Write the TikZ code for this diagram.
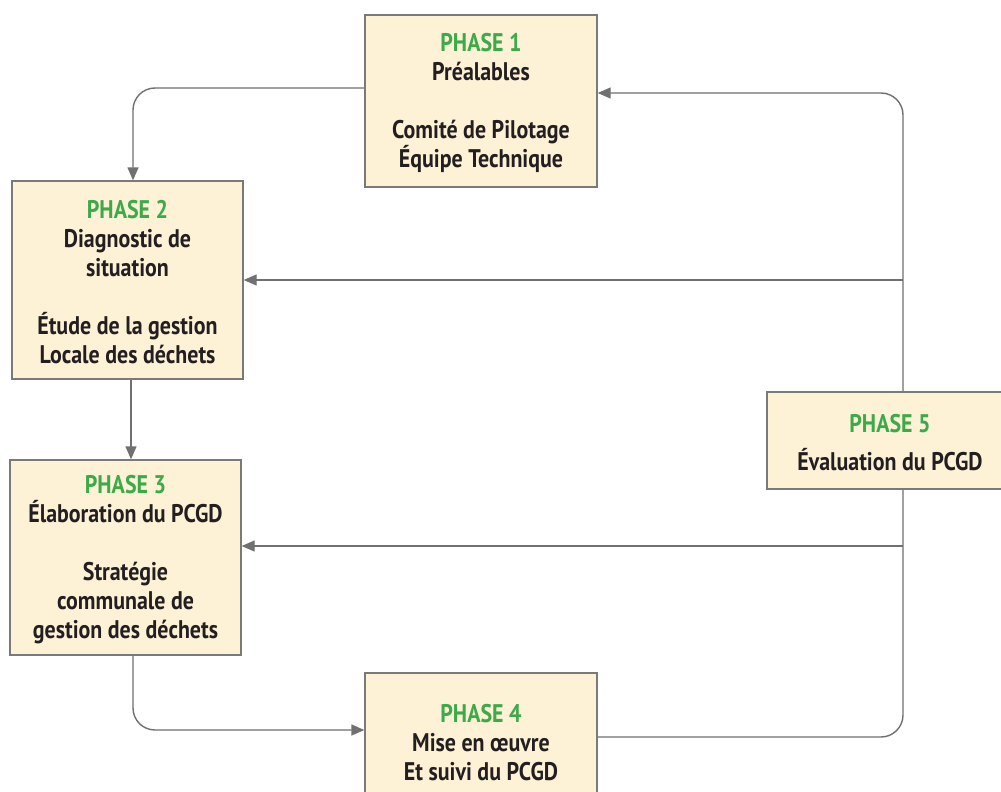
\documentclass[tikz,border=0pt]{standalone}
\usepackage{fontspec}
\setmainfont{PT Sans}[FakeStretch=0.86]
\usetikzlibrary{arrows.meta,backgrounds}
\definecolor{boxfill}{HTML}{FDF1D6}
\definecolor{boxline}{HTML}{7A7A7A}
\definecolor{phasegreen}{HTML}{3DAA4A}
\definecolor{linkgray}{HTML}{707070}
\definecolor{textdark}{HTML}{231F20}
\tikzset{
  phasebox/.style={draw=boxline, line width=1.4pt, fill=boxfill, rectangle,
    inner sep=0pt, align=center, text=textdark,
    font=\fontsize{25.5}{29}\selectfont\bfseries},
  conn/.style={draw=linkgray, line width=1.4pt,
    -{Triangle[length=13pt,width=11pt]}},
}
\newcommand{\phasetitle}[1]{\rule{0pt}{23pt}\textcolor{phasegreen}{#1}}
\begin{document}
\begin{tikzpicture}[x=1pt,y=-1pt]
  \clip (0,0) rectangle (1001,792);
  \useasboundingbox (0,0) rectangle (1001,792);

  % the five phases
  \node[phasebox, minimum width=232pt, minimum height=172pt] (p1) at (481,101)
    {\phasetitle{PHASE 1}\\Préalables\\[29pt]Comité de Pilotage\\Équipe Technique};
  \node[phasebox, minimum width=231pt, minimum height=198pt] (p2) at (127.5,280)
    {\phasetitle{PHASE 2}\\Diagnostic de\\situation\\[29pt]Étude de la gestion\\Locale des déchets};
  \node[phasebox, minimum width=231pt, minimum height=195pt] (p3) at (125.5,557.5)
    {\phasetitle{PHASE 3}\\Élaboration du PCGD\\[29pt]Stratégie\\communale de\\gestion des déchets};
  \node[phasebox, minimum width=232pt, minimum height=134pt] (p4) at (481,740)
    {\phasetitle{PHASE 4}\\Mise en œuvre\\Et suivi du PCGD};
  \node[phasebox, minimum width=246pt, minimum height=97pt] (p5) at (890,440.5)
    {\phasetitle{PHASE 5}\\[9pt]Évaluation du PCGD};

  % feedback spine on the right
  \coordinate (s2) at (903,280);
  \coordinate (s3) at (903,546);

  \begin{scope}[on background layer]
    \fill[white] (0,0) rectangle (1001,792);
    \draw[conn, rounded corners=22pt] (p1.west |- 0,88) -| (p2.north -| 133,0);
    \draw[conn] (p2.south -| 131,0) -- (p3.north -| 131,0);
    \draw[conn, rounded corners=22pt] (p3.south -| 133,0) |- (p4.west |- 0,730);
    \draw[conn, rounded corners=22pt] (p4.east |- 0,737) -| (903,93) -- (p1.east |- 0,93);
    \draw[conn] (s2) -- (p2.east |- s2);
    \draw[conn] (s3) -- (p3.east |- s3);
  \end{scope}
\end{tikzpicture}
\end{document}
